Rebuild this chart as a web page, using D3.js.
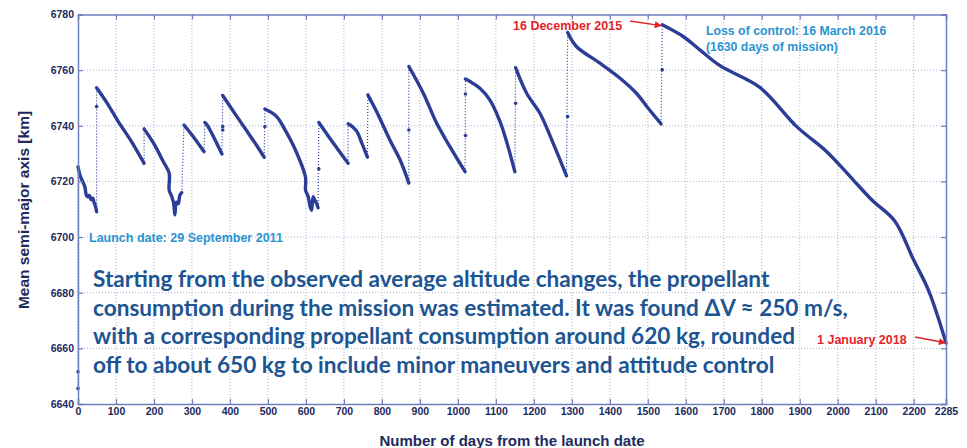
<!DOCTYPE html>
<html>
<head>
<meta charset="utf-8">
<script src="https://cdn.jsdelivr.net/npm/d3@7/dist/d3.min.js"></script>
<style>
  body { margin: 0; background: #fff; }
  svg text { font-family: "Liberation Sans", Arial, sans-serif; font-weight: bold; }
</style>
</head>
<body>
<svg id="chart"></svg>
<script>
// Axis ticks
const xTicks = [0, 100, 200, 300, 400, 500, 600, 700, 800, 900, 1000, 1100, 1200,
  1300, 1400, 1500, 1600, 1700, 1800, 1900, 2000, 2100, 2200, 2285];
const yTicks = [6640, 6660, 6680, 6700, 6720, 6740, 6760, 6780];

// Mean semi-major axis [km] vs day from launch, one array per decay arc
const launchPoints = [[0, 6645.6], [0, 6651.6]];
const arc01 = [[0, 6725.3], [5, 6722.3], [12, 6720], [18, 6718.1], [22, 6715], [26, 6714.5], [30, 6715],
  [34, 6713.5], [39, 6714], [42, 6712.5], [45, 6711.5], [49, 6709.1]];
const arc02 = [[49, 6753.7], [75, 6748.5], [106, 6741.5], [140, 6734.5], [174, 6726.5]];
const arc03 = [[174, 6738.9], [200, 6733.5], [225, 6727], [240, 6723], [240, 6716.9], [247, 6714.5],
  [252, 6712], [255, 6708], [259, 6712.5], [264, 6712], [268, 6715], [273, 6716]];
const arc04 = [[279, 6740.3], [304, 6736], [332, 6730.7]];
const arc05 = [[334, 6741.2], [340, 6740.3], [352, 6737.3], [366, 6733.5], [379, 6729.9]];
const arc06 = [[381, 6750.9], [410, 6745], [440, 6739], [470, 6733], [490, 6728.7]];
const arc07 = [[492, 6746], [523, 6743.3], [545, 6738.5], [570, 6732], [599, 6721.4], [599, 6716.9],
  [606, 6714.5], [611, 6711], [615, 6709.7], [619, 6714.5], [624, 6713], [628, 6712.2], [632, 6710.5]];
const arc08 = [[634, 6741.2], [672, 6733.8], [711, 6726.5]];
const arc09 = [[711, 6740.7], [722, 6739.7], [734, 6738], [748, 6733.5], [762, 6728.7]];
const arc10 = [[763, 6751.1], [786, 6745.1], [821, 6734.9], [848, 6727.7], [871, 6719.4]];
const arc11 = [[871, 6761.3], [909, 6751.7], [944, 6741], [979, 6732.5], [1019, 6723.5]];
const arc12 = [[1020, 6756.8], [1032, 6755.9], [1058, 6753.5], [1084, 6749.3], [1111, 6741.5],
  [1130, 6733.5], [1150, 6723.5]];
const arc13 = [[1152, 6760.9], [1181, 6751.7], [1216, 6744.5], [1251, 6733.7], [1286, 6722]];
const arc14 = [[1289, 6773.5], [1312, 6768.5], [1374, 6762.5], [1427, 6757.1], [1470, 6751.7],
  [1501, 6746.3], [1535, 6740.7]];
const arc15 = [[1538, 6776.3], [1593, 6772.1], [1637, 6767.3], [1690, 6761.6], [1795, 6753.8],
  [1892, 6739.7], [1971, 6730.7], [2041, 6720.5], [2090, 6713.3], [2150, 6705.8], [2199, 6692],
  [2240, 6680.5], [2285, 6662]];
const arcs = [arc01, arc02, arc03, arc04, arc05, arc06, arc07, arc08, arc09, arc10, arc11, arc12,
  arc13, arc14, arc15];

// isolated samples during the manoeuvres
const jumpDots = [[0, 6645.6], [0, 6651.6], [49, 6746.9], [381, 6739.7], [381, 6738.5], [492, 6739.7],
  [634, 6724.5], [871, 6738.5], [1020, 6751.4], [1020, 6736.5], [1152, 6748.1], [1289, 6743.3],
  [1538, 6760.1]];

const bodyLines = [
  "Starting from the observed average altitude changes, the propellant",
  "consumption during the mission was estimated. It was found \u0394V \u2248 250 m/s,",
  "with a corresponding propellant consumption around 620 kg, rounded",
  "off to about 650 kg to include minor maneuvers and attitude control"
];

const width = 967, height = 448;
const navy = "#1c2a5e", lineBlue = "#2b3d96", frame = "#6f7fbd", grid = "#aab3d9";

const svg = d3.select("#chart").attr("width", width).attr("height", height);

const x = d3.scaleLinear().domain([0, 2285]).range([78, 946]);
const y = d3.scaleLinear().domain([6640, 6780]).range([404, 14.5]);

// grid
const gGrid = svg.append("g");
gGrid.selectAll(".vg")
  .data(xTicks.filter(d => d > 0 && d < 2285))
  .enter().append("line")
  .attr("x1", d => x(d)).attr("x2", d => x(d))
  .attr("y1", y(6640)).attr("y2", y(6780))
  .attr("stroke", grid).attr("stroke-width", 1).attr("stroke-dasharray", "1,2");
gGrid.selectAll(".hg")
  .data(yTicks.filter(d => d > 6640 && d < 6780))
  .enter().append("line")
  .attr("x1", x(0)).attr("x2", x(2285))
  .attr("y1", d => y(d)).attr("y2", d => y(d))
  .attr("stroke", grid).attr("stroke-width", 1).attr("stroke-dasharray", "1,2");

// dotted series through the jumps
const line = d3.line().x(d => x(d[0])).y(d => y(d[1]));
const allPoints = launchPoints.concat(...arcs);
svg.append("path")
  .datum(allPoints)
  .attr("d", line)
  .attr("fill", "none")
  .attr("stroke", lineBlue)
  .attr("stroke-width", 1.2)
  .attr("stroke-dasharray", "1,2");

// solid decay arcs
const smooth = d3.line().x(d => x(d[0])).y(d => y(d[1])).curve(d3.curveCatmullRom.alpha(0.5));
svg.selectAll(".arc")
  .data(arcs)
  .enter().append("path")
  .attr("class", "arc")
  .attr("d", smooth)
  .attr("fill", "none")
  .attr("stroke", lineBlue)
  .attr("stroke-width", 3.4)
  .attr("stroke-linejoin", "round")
  .attr("stroke-linecap", "round");

svg.selectAll(".dot")
  .data(jumpDots)
  .enter().append("circle")
  .attr("cx", d => x(d[0])).attr("cy", d => y(d[1]))
  .attr("r", 1.8).attr("fill", lineBlue);

// axes
const fmt = d3.format("d");
svg.append("g").attr("transform", `translate(0,${y(6640)})`)
  .call(d3.axisBottom(x).tickValues(xTicks).tickFormat(fmt).tickSize(-5).tickPadding(4));
svg.append("g").attr("transform", `translate(${x(0)},0)`)
  .call(d3.axisLeft(y).tickValues(yTicks).tickFormat(fmt).tickSize(-5).tickPadding(4));
svg.append("g").attr("transform", `translate(0,${y(6780)})`)
  .call(d3.axisTop(x).tickValues(xTicks).tickFormat("").tickSize(-5));
svg.append("g").attr("transform", `translate(${x(2285)},0)`)
  .call(d3.axisRight(y).tickValues(yTicks).tickFormat("").tickSize(-5));

svg.selectAll(".domain").attr("stroke", frame).attr("stroke-width", 1.5);
svg.selectAll(".tick line").attr("stroke", frame).attr("stroke-width", 1.2);
svg.selectAll(".tick text")
  .attr("fill", navy)
  .style("font-size", "10.5px")
  .style("font-family", "'Liberation Sans', Arial, sans-serif")
  .style("font-weight", "bold");

// axis titles
svg.append("text")
  .attr("transform", "translate(29,210) rotate(-90)")
  .attr("text-anchor", "middle")
  .attr("fill", navy)
  .style("font-size", "15.5px")
  .text("Mean semi-major axis [km]");
svg.append("text")
  .attr("x", 512).attr("y", 446)
  .attr("text-anchor", "middle")
  .attr("fill", navy)
  .style("font-size", "15px")
  .text("Number of days from the launch date");

// annotations
const cyan = "#2b93d1", red = "#e5232b";
svg.append("text").attr("x", 89).attr("y", 241.5).attr("fill", cyan)
  .style("font-size", "12.5px").text("Launch date: 29 September 2011");
svg.append("text").attr("x", 706).attr("y", 34.5).attr("fill", cyan)
  .style("font-size", "12.3px").text("Loss of control: 16 March 2016");
svg.append("text").attr("x", 706).attr("y", 50.5).attr("fill", cyan)
  .style("font-size", "12.3px").text("(1630 days of mission)");
svg.append("text").attr("x", 513).attr("y", 29.5).attr("fill", red)
  .style("font-size", "12.5px").text("16 December 2015");
svg.append("text").attr("x", 817).attr("y", 343.5).attr("fill", red)
  .style("font-size", "12.5px").text("1 January 2018");

svg.append("defs").append("marker")
  .attr("id", "arrow").attr("viewBox", "0 0 10 10")
  .attr("refX", 9).attr("refY", 5)
  .attr("markerWidth", 9).attr("markerHeight", 7)
  .attr("markerUnits", "userSpaceOnUse")
  .attr("orient", "auto")
  .append("path").attr("d", "M0,0 L10,5 L0,10 Z").attr("fill", red);

svg.append("line").attr("x1", 630).attr("y1", 21).attr("x2", x(1535)).attr("y2", y(6776))
  .attr("stroke", red).attr("stroke-width", 1.5).attr("marker-end", "url(#arrow)");
svg.append("line").attr("x1", 915).attr("y1", 337).attr("x2", x(2283)).attr("y2", y(6662))
  .attr("stroke", red).attr("stroke-width", 1.5).attr("marker-end", "url(#arrow)");

// body text, sized so the second line spans the same width as the original
const texts = svg.append("g").selectAll("text")
  .data(bodyLines)
  .enter().append("text")
  .attr("x", 93)
  .attr("y", (d, i) => 287 + i * 28.7)
  .attr("fill", "#1d5593")
  .style("font-family", "Lato, 'Open Sans', sans-serif")
  .style("font-weight", "bold")
  .style("font-size", "20px")
  .text(d => d);
const w2 = texts.nodes()[1].getComputedTextLength();
texts.style("font-size", (20 * 755 / w2).toFixed(2) + "px");
</script>
</body>
</html>
